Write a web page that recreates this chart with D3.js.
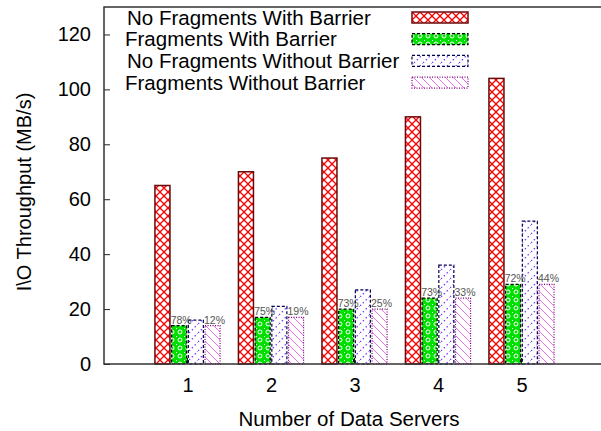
<html>
<head>
    <meta charset="utf-8">
    <title>IO Throughput</title>
    <script src="https://cdn.jsdelivr.net/npm/d3@7"></script>
    <style>
        body { margin: 0; background: #fff; }
        text { font-family: "Liberation Sans", Arial, sans-serif; }
    </style>
</head>
<body>
<svg id="chart"></svg>
<script>
    // data
    const servers = [1, 2, 3, 4, 5];
    const seriesNames = ['No Fragments With Barrier', 'Fragments With Barrier',
                         'No Fragments Without Barrier', 'Fragments Without Barrier'];
    const noFragBarrier = [65, 70, 75, 90, 104];
    const fragBarrier = [14, 17, 20, 24, 29];
    const noFragNoBarrier = [16, 21, 27, 36, 52];
    const fragNoBarrier = [14, 17, 20, 24, 29];
    const pctBarrier = ['78%', '75%', '73%', '73%', '72%'];
    const pctNoBarrier = ['12%', '19%', '25%', '33%', '44%'];
    const yTicks = [0, 20, 40, 60, 80, 100, 120];

    const W = 601, H = 431;
    const svg = d3.select('#chart').attr('width', W).attr('height', H);

    const x = d3.scaleLinear().domain([0, 6]).range([104, 605]);
    const y = d3.scaleLinear().domain([0, 130]).range([364, 7]);

    // patterns
    const defs = svg.append('defs');

    const pRed = defs.append('pattern').attr('id', 'pRed')
        .attr('patternUnits', 'userSpaceOnUse').attr('width', 8).attr('height', 8);
    pRed.append('rect').attr('width', 8).attr('height', 8).attr('fill', '#fff');
    pRed.append('path').attr('d', 'M0,0L8,8M8,0L0,8')
        .attr('stroke', '#f00').attr('stroke-width', 1.3);

    const pGreen = defs.append('pattern').attr('id', 'pGreen')
        .attr('patternUnits', 'userSpaceOnUse').attr('width', 8).attr('height', 8);
    pGreen.append('rect').attr('width', 8).attr('height', 8).attr('fill', '#00e000');
    pGreen.append('circle').attr('cx', 4).attr('cy', 4).attr('r', 2)
        .attr('fill', 'none').attr('stroke', '#fff').attr('stroke-width', 1);
    pGreen.append('rect').attr('x', 0).attr('y', 0).attr('width', 1).attr('height', 1).attr('fill', '#fff');

    const pBlue = defs.append('pattern').attr('id', 'pBlue')
        .attr('patternUnits', 'userSpaceOnUse').attr('width', 9).attr('height', 9);
    pBlue.append('rect').attr('width', 9).attr('height', 9).attr('fill', '#fff');
    pBlue.append('path').attr('d', 'M0,9L9,0')
        .attr('stroke', '#7a3cff').attr('stroke-width', 1.3).attr('stroke-dasharray', '1.5,2.5');

    const pMag = defs.append('pattern').attr('id', 'pMag')
        .attr('patternUnits', 'userSpaceOnUse').attr('width', 8).attr('height', 8);
    pMag.append('rect').attr('width', 8).attr('height', 8).attr('fill', '#fff');
    pMag.append('path').attr('d', 'M0,0L8,8')
        .attr('stroke', '#f070f0').attr('stroke-width', 1);

    const styles = [
        { fill: 'url(#pRed)', stroke: '#6b0a0a', dash: null, width: 1.5 },
        { fill: 'url(#pGreen)', stroke: '#000', dash: '3,2', width: 1.2 },
        { fill: 'url(#pBlue)', stroke: '#000050', dash: '3,2', width: 1.2 },
        { fill: 'url(#pMag)', stroke: '#800080', dash: '1,1.5', width: 1.2 }
    ];

    const series = [noFragBarrier, fragBarrier, noFragNoBarrier, fragNoBarrier];
    const barStep = 0.2, barW = 0.18;

    // inward ticks along the bottom
    svg.append('g').selectAll('line').data(servers).join('line')
        .attr('x1', d => x(d)).attr('x2', d => x(d))
        .attr('y1', y(0)).attr('y2', y(0) - 6)
        .attr('stroke', '#222').attr('stroke-width', 1);

    series.forEach((vals, j) => {
        const st = styles[j];
        svg.append('g').selectAll('rect').data(vals).join('rect')
            .attr('x', (d, i) => x(servers[i] + (j - 1.5) * barStep - barW / 2))
            .attr('width', x(barW) - x(0))
            .attr('y', d => y(d))
            .attr('height', d => y(0) - y(d))
            .attr('fill', st.fill)
            .attr('stroke', st.stroke)
            .attr('stroke-width', st.width)
            .attr('stroke-dasharray', st.dash);
    });

    // percentage labels over the fragment bars
    const pctSets = [[1, fragBarrier, pctBarrier], [3, fragNoBarrier, pctNoBarrier]];
    pctSets.forEach(([j, vals, labels]) => {
        svg.append('g').selectAll('text').data(vals).join('text')
            .attr('x', (d, i) => x(servers[i] + (j - 1.5) * barStep - barW / 2) - 1)
            .attr('y', d => y(d) - 2)
            .attr('font-size', 10.5)
            .attr('fill', '#555')
            .text((d, i) => labels[i]);
    });

    // axes
    const yAxis = d3.axisLeft(y).tickValues(yTicks).tickSize(-6).tickPadding(13);
    const gy = svg.append('g').attr('transform', 'translate(104,0)').call(yAxis);
    gy.select('.domain').remove();
    gy.selectAll('line').attr('stroke', '#222');
    gy.selectAll('text').attr('font-size', 20).attr('fill', '#000')
        .attr('font-family', '"Liberation Sans", Arial, sans-serif');

    const xAxis = d3.axisBottom(x).tickValues(servers).tickFormat(d3.format('d'))
        .tickSize(0).tickPadding(14);
    const gx = svg.append('g').attr('transform', 'translate(0,364)').call(xAxis);
    gx.select('.domain').remove();
    gx.selectAll('text').attr('font-size', 20).attr('fill', '#000')
        .attr('font-family', '"Liberation Sans", Arial, sans-serif');

    // border: left, top, bottom
    svg.append('path')
        .attr('d', `M${W},${y(130)}H104V${y(0)}H${W}`)
        .attr('fill', 'none').attr('stroke', '#333').attr('stroke-width', 1.5);

    // axis titles
    svg.append('text')
        .attr('transform', 'translate(31,192) rotate(-90)')
        .attr('text-anchor', 'middle').attr('font-size', 20)
        .text('I\\O Throughput (MB/s)');
    svg.append('text')
        .attr('x', 349).attr('y', 426)
        .attr('text-anchor', 'middle').attr('font-size', 20.5)
        .text('Number of Data Servers');

    // legend
    const legendX = [127, 125, 127, 125];
    const legend = svg.append('g');
    seriesNames.forEach((name, j) => {
        const cy = 17.5 + j * 21.7;
        legend.append('text')
            .attr('x', legendX[j]).attr('y', cy + 7)
            .attr('font-size', 20.5)
            .text(name);
        legend.append('rect')
            .attr('x', 412).attr('y', cy - 5.5)
            .attr('width', 56).attr('height', 11)
            .attr('fill', styles[j].fill)
            .attr('stroke', styles[j].stroke)
            .attr('stroke-width', styles[j].width)
            .attr('stroke-dasharray', styles[j].dash);
    });
</script>
</body>
</html>
